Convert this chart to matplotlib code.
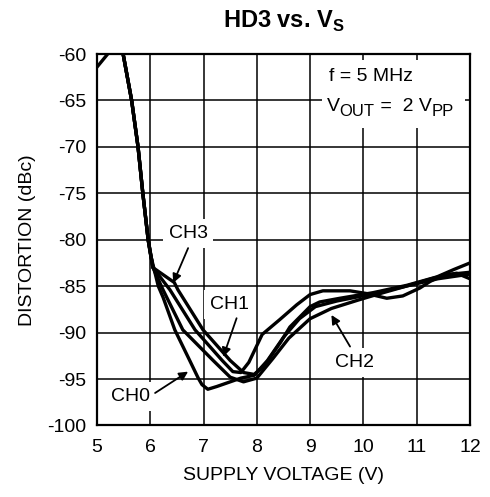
import matplotlib
matplotlib.use('Agg')
import matplotlib.pyplot as plt
from matplotlib.patches import Rectangle

plt.rcParams['font.family'] = ['Liberation Sans', 'DejaVu Sans']
plt.rcParams['mathtext.fontset'] = 'custom'
plt.rcParams['mathtext.rm'] = 'Liberation Sans'
plt.rcParams['mathtext.bf'] = 'Liberation Sans:bold'
plt.rcParams['axes.unicode_minus'] = False

# shared steep part at low supply voltage
desc_v = [5.49, 5.65, 5.77, 5.86, 5.96]
desc_db = [-60, -65, -70, -75, -80]

ch0_v = [5.0, 5.3, 5.45] + desc_v + [6.0, 6.15, 6.24, 6.46, 6.74, 6.9, 6.97, 7.08, 7.25, 7.5, 7.7,
                                     7.95, 8.2, 8.5, 8.8, 9.1, 9.5, 10.2, 10.8, 11.4, 11.75, 12.0]
ch0_db = [-61.4, -59.3, -59.5] + desc_db + [-81.5, -85.0, -86.2, -89.7, -93.0, -94.9, -95.6, -96.1,
                                            -95.8, -95.3, -94.9, -94.6, -93.0, -90.5, -88.5, -87.2,
                                            -86.6, -85.8, -85.0, -84.0, -83.6, -84.2]

ch1_v = desc_v + [6.05, 6.37, 6.84, 7.35, 7.55, 7.7, 7.85, 8.1, 8.43, 8.75, 9.0, 9.24, 9.75,
                  10.07, 10.44, 10.74, 11.06, 11.25, 11.49, 12.0]
ch1_db = desc_db + [-83.0, -85.4, -89.7, -93.0, -94.2, -94.3, -93.2, -90.2, -88.6, -87.0, -85.9,
                    -85.5, -85.5, -85.8, -86.3, -86.05, -85.2, -84.5, -83.8, -83.5]

ch2_v = desc_v + [6.05, 6.24, 6.61, 7.18, 7.5, 7.75, 8.0, 8.3, 8.6, 9.0, 9.4, 9.9, 10.25,
                  10.8, 11.4, 12.0]
ch2_db = desc_db + [-83.0, -85.4, -89.7, -93.0, -94.8, -95.3, -94.9, -92.8, -90.6, -88.5, -87.4,
                    -86.5, -85.9, -85.0, -84.2, -83.7]

ch3_v = desc_v + [6.05, 6.45, 6.52, 6.99, 7.5, 7.75, 7.95, 8.15, 8.45, 8.62, 9.0, 9.18, 9.56,
                  10.18, 10.82, 11.38, 11.7, 12.0]
ch3_db = desc_db + [-83.0, -84.6, -85.4, -89.7, -93.0, -94.3, -94.5, -93.5, -91.0, -89.4, -87.2,
                    -86.7, -86.3, -85.7, -84.9, -84.0, -83.2, -82.5]

x_ticks = [5, 6, 7, 8, 9, 10, 11, 12]
y_ticks = [-60, -65, -70, -75, -80, -85, -90, -95, -100]

# label text position, arrow tail, arrow tip
labels = [
    ('CH3', (6.71, -79.3), (6.71, -80.9), (6.43, -84.65)),
    ('CH1', (7.49, -87.0), (7.62, -88.45), (7.37, -92.6)),
    ('CH0', (5.62, -96.9), (6.09, -96.5), (6.71, -94.2)),
    ('CH2', (9.84, -93.2), (9.75, -91.5), (9.40, -88.1)),
]

# V_OUT line written piece by piece: text, size, vertical shift (points)
vout_pieces = [('V', 14, 0), ('OUT', 12, -4), (' =  2 V', 14, 0), ('PP', 12, -4)]


def seq_text(fig, ax, x, y, pieces):
    renderer = fig.canvas.get_renderer()
    off = 0.0
    for s, size, dy in pieces:
        t = ax.annotate(s, xy=(x, y), xytext=(off, dy), textcoords='offset points',
                        fontsize=size, ha='left', va='baseline', zorder=3)
        off += t.get_window_extent(renderer).width * 72.0 / fig.dpi


def main():
    fig = plt.figure(figsize=(4.9, 4.97), dpi=100)
    ax = fig.add_axes([0.198, 0.1439, 0.761, 0.7474])
    ax.set_axisbelow(True)
    ax.grid(True, color='black', lw=1.1)

    for v, db in [(ch0_v, ch0_db), (ch1_v, ch1_db), (ch2_v, ch2_db), (ch3_v, ch3_db)]:
        ax.plot(v, db, color='black', lw=2.4, solid_joinstyle='round', zorder=2)

    ax.set_xlim(5, 12)
    ax.set_ylim(-100, -60)
    ax.set_xticks(x_ticks)
    ax.set_yticks(y_ticks)
    ax.tick_params(length=0, labelsize=14)
    ax.tick_params(axis='x', pad=10)
    ax.tick_params(axis='y', pad=8)
    for s in ax.spines.values():
        s.set_linewidth(1.6)

    ax.set_xlabel('SUPPLY VOLTAGE (V)', fontsize=14, labelpad=8)
    ax.set_ylabel('DISTORTION (dBc)', fontsize=14, labelpad=8)
    ax.set_title(r'HD3 vs. V$_\mathbf{S}$', fontsize=17, fontweight='bold', pad=19)

    # white area behind the conditions
    ax.add_patch(Rectangle((9.22, -68.0), 2.68, 7.4, facecolor='white', edgecolor='none', zorder=1))
    ax.text(10.15, -62.4, 'f = 5 MHz', fontsize=14, ha='center', va='center', zorder=3)
    seq_text(fig, ax, 9.31, -66.1, vout_pieces)

    for name, pos, tail, tip in labels:
        ax.text(pos[0], pos[1], name, fontsize=14, ha='center', va='center', zorder=3,
                bbox=dict(boxstyle='square,pad=0.3', facecolor='white', edgecolor='none'))
        ax.annotate('', xy=tip, xytext=tail, zorder=3,
                    arrowprops=dict(arrowstyle='-|>', color='black', lw=1.3, mutation_scale=13,
                                    shrinkA=0, shrinkB=0))

    fig.savefig('out.png', dpi=100)


if __name__ == '__main__':
    main()
